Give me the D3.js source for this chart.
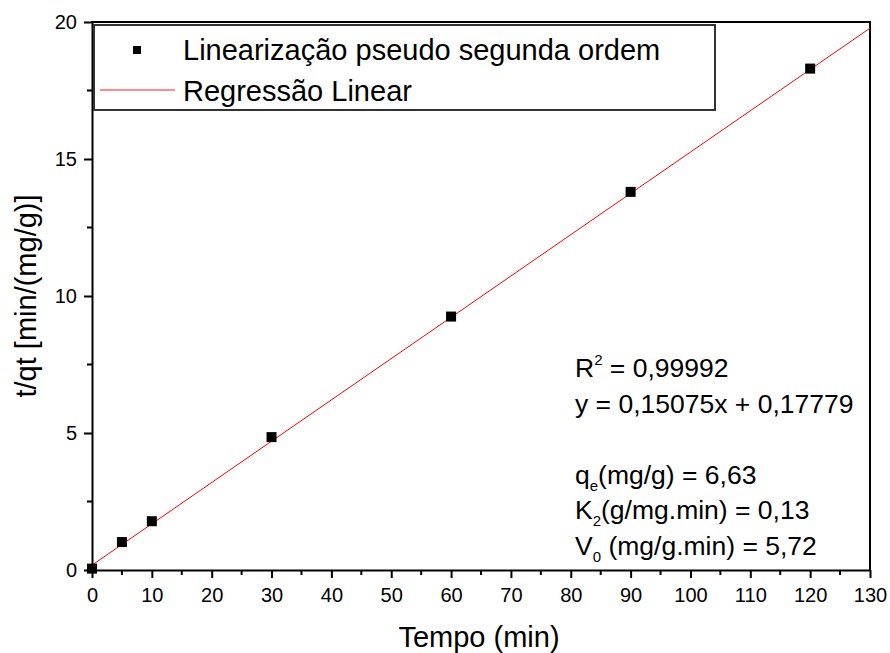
<!doctype html>
<html>
<head>
<meta charset="utf-8">
<script src="https://d3js.org/d3.v7.min.js"></script>
<style>
  body { margin: 0; background: #fff; }
  text { font-family: "Liberation Sans", Arial, sans-serif; fill: #000; }
</style>
</head>
<body>
<svg id="chart" width="890" height="653"></svg>
<script>
    // data
    var tempo = [0, 5, 10, 30, 60, 90, 120];
    var tqt = [0.05, 1.02, 1.78, 4.85, 9.25, 13.8, 18.3];
    var slope = 0.15075, intercept = 0.17779;
    var xTicks = [0, 10, 20, 30, 40, 50, 60, 70, 80, 90, 100, 110, 120, 130];
    var yTicks = [0, 5, 10, 15, 20];
    var notes = [
        ["R", "2", " = 0,99992", "sup"],
        ["y = 0,15075x + 0,17779"],
        [""],
        ["q", "e", "(mg/g) = 6,63", "sub"],
        ["K", "2", "(g/mg.min) = 0,13", "sub"],
        ["V", "0", " (mg/g.min) = 5,72", "sub"]
    ];

    var svg = d3.select("#chart"),
        pLeft = 92, pRight = 870, pTop = 22, pBottom = 570;

    var x = d3.scaleLinear().domain([0, 130]).range([pLeft, pRight]),
        y = d3.scaleLinear().domain([0, 20]).range([pBottom, pTop]);

    // bottom axis
    var xAxis = svg.append("g")
        .attr("transform", "translate(0," + pBottom + ")")
        .call(d3.axisBottom(x).tickValues(xTicks).tickSize(8).tickSizeOuter(0));
    xAxis.selectAll("text").attr("font-size", "20px").attr("dy", "1.05em");
    xAxis.append("g").selectAll("line")
        .data(d3.range(5, 130, 10)).enter().append("line")
        .attr("x1", function(d) { return x(d); })
        .attr("x2", function(d) { return x(d); })
        .attr("y1", 0).attr("y2", 5)
        .attr("stroke", "#000").attr("stroke-width", 2);

    // left axis
    var yAxis = svg.append("g")
        .attr("transform", "translate(" + pLeft + ",0)")
        .call(d3.axisLeft(y).tickValues(yTicks).tickSize(8).tickSizeOuter(0));
    yAxis.selectAll("text").attr("font-size", "20px").attr("dx", "-0.2em");
    yAxis.append("g").selectAll("line")
        .data([2.5, 7.5, 12.5, 17.5]).enter().append("line")
        .attr("y1", function(d) { return y(d); })
        .attr("y2", function(d) { return y(d); })
        .attr("x1", 0).attr("x2", -5)
        .attr("stroke", "#000").attr("stroke-width", 2);

    svg.selectAll(".domain, .tick line").attr("stroke", "#000").attr("stroke-width", 2);

    // top & right frame
    svg.append("line").attr("x1", pLeft - 1).attr("x2", pRight + 1).attr("y1", pTop).attr("y2", pTop)
        .attr("stroke", "#000").attr("stroke-width", 2);
    svg.append("line").attr("x1", pRight).attr("x2", pRight).attr("y1", pTop).attr("y2", pBottom)
        .attr("stroke", "#000").attr("stroke-width", 2);

    // regression line
    svg.append("line")
        .attr("x1", x(0)).attr("y1", y(intercept))
        .attr("x2", x(130)).attr("y2", y(slope * 130 + intercept))
        .attr("stroke", "red").attr("stroke-width", 1);

    // points
    var ms = 10;
    svg.selectAll(".pt")
        .data(tempo).enter().append("rect")
        .attr("class", "pt")
        .attr("x", function(d) { return x(d) - ms / 2; })
        .attr("y", function(d, i) { return y(tqt[i]) - ms / 2; })
        .attr("width", ms).attr("height", ms)
        .attr("fill", "#000");

    // legend
    svg.append("rect")
        .attr("x", 94).attr("y", 25).attr("width", 621).attr("height", 85)
        .attr("fill", "#fff").attr("stroke", "#333").attr("stroke-width", 2);
    svg.append("rect").attr("x", 133).attr("y", 46).attr("width", 8).attr("height", 8).attr("fill", "#000");
    svg.append("line").attr("x1", 100).attr("x2", 175).attr("y1", 90).attr("y2", 90)
        .attr("stroke", "#f66").attr("stroke-width", 1.5);
    svg.append("text").attr("x", 183).attr("y", 60).attr("font-size", "29px")
        .text("Linearização pseudo segunda ordem");
    svg.append("text").attr("x", 183).attr("y", 101).attr("font-size", "29px")
        .text("Regressão Linear");

    // annotation
    notes.forEach(function(n, i) {
        var t = svg.append("text")
            .attr("x", 575).attr("y", 377 + i * 35.5)
            .attr("font-size", "26.5px");
        t.append("tspan").text(n[0]);
        if (n.length > 1) {
            t.append("tspan").attr("font-size", "15px")
                .attr("dy", n[3] === "sup" ? "-12" : "7").text(n[1]);
            t.append("tspan").attr("dy", n[3] === "sup" ? "12" : "-7").text(n[2]);
        }
    });

    // axis titles
    svg.append("text").attr("x", (pLeft + pRight) / 2 - 2).attr("y", 647)
        .attr("text-anchor", "middle").attr("font-size", "29px").text("Tempo (min)");
    svg.append("text")
        .attr("transform", "translate(36," + (pTop + pBottom) / 2 + ") rotate(-90)")
        .attr("text-anchor", "middle").attr("font-size", "29px").text("t/qt [min/(mg/g)]");
</script>
</body>
</html>
